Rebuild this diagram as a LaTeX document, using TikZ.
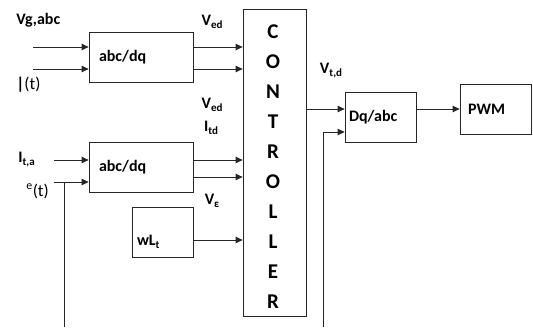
\documentclass[tikz,border=0pt]{standalone}
\usepackage{fontspec}
\setmainfont{Carlito}
\usetikzlibrary{arrows.meta}
\newcommand{\lowidx}[1]{\raisebox{-3pt}{\fontsize{11}{12}\selectfont #1}}

\begin{document}
\begin{tikzpicture}[x=1pt,y=-1pt,line width=.8pt,
  blk/.style={draw=black!85,inner ysep=0pt,minimum height=50pt,align=left,font=\fontsize{16}{18}\selectfont\bfseries},
  wire/.style={draw=black!85},
  sig/.style={wire,-{Triangle[length=7pt,width=6.5pt]}},
  lbl/.style={inner sep=0pt,font=\fontsize{16}{18}\selectfont\bfseries}]
\path[use as bounding box] (0,0) rectangle (533,327);
% blocks
\node[blk,text width=84pt,inner xsep=10pt] (abc1) at (141,57) {abc/dq};
\node[blk,text width=84pt,inner xsep=10pt] (abc2) at (141,167) {abc/dq};
\node[blk,text width=51pt,inner xsep=5pt,text height=27pt,text depth=0pt] (wl) at (162.5,232) {wL\lowidx{t}};
\node[blk,minimum width=63pt,minimum height=307pt] (ctrl) at (274.5,162.5) {};
\foreach \ch [count=\i from 0] in {C,O,N,T,R,O,L,L,E,R}
  \node[lbl,font=\fontsize{21}{22}\selectfont\bfseries] (ch\i) at (273,32+30*\i) {\ch};
\node[blk,text width=63pt,inner xsep=4pt] (dq) at (380.5,117) {Dq/abc};
\node[blk,text width=55pt,inner xsep=8pt] (pwm) at (495.5,109) {PWM};
% labels
\node[lbl,anchor=west] (vgabc) at (16,20) {Vg,abc};
\node[lbl,anchor=west,font=\fontsize{17}{18}\selectfont] (thA) at (16,85) {\textbf{|}(t)};
\node[lbl] (ved1) at (212,22) {V\lowidx{ed}};
\node[lbl] (ved2) at (212,105) {V\lowidx{ed}};
\node[lbl] (itd) at (211,128) {I\lowidx{td}};
\node[lbl] (veps) at (212,201) {V\lowidx{ε}};
\node[lbl,anchor=west] (ita) at (18,160) {I\lowidx{t,a}};
\node[lbl,anchor=west,font=\fontsize{17}{18}\selectfont] (thB) at (26,191) {\textsuperscript{e}(t)};
\node[lbl] (vtd) at (331,71) {V\lowidx{t,d}};
% connectors
\coordinate (a1) at (33,47);
\coordinate (a2) at (33,69);
\draw[sig] (a1) -- (a1 -| abc1.west);
\draw[sig] (a2) -- (a2 -| abc1.west);
\draw[sig] (a1 -| abc1.east) -- (a1 -| ctrl.west);
\draw[sig] (a2 -| abc1.east) -- (a2 -| ctrl.west);
\coordinate (b1) at (54,160);
\coordinate (b2) at (54,182);
\coordinate (b3) at (193,177);
\draw[sig] (b1) -- (b1 -| abc2.west);
\draw[sig] (b2) -- (b2 -| abc2.west);
\draw[sig] (b1 -| abc2.east) -- (b1 -| ctrl.west);
\draw[sig] (b3) -- (b3 -| ctrl.west);
\coordinate (tap) at (64,182);
\coordinate (tapend) at (64,327);
\draw[wire] (tap) -- (tapend);
\coordinate (w1) at (193,240);
\draw[sig] (w1) -- (w1 -| ctrl.west);
\coordinate (c1) at (306,109);
\draw[sig] (c1) -- (c1 -| dq.west);
\coordinate (fb) at (323,327);
\coordinate (fbt) at (323,132);
\draw[sig] (fb) -- (fbt) -- (fbt -| dq.west);
\draw[sig] (dq.east |- pwm.west) -- (pwm.west);
\end{tikzpicture}
\end{document}
